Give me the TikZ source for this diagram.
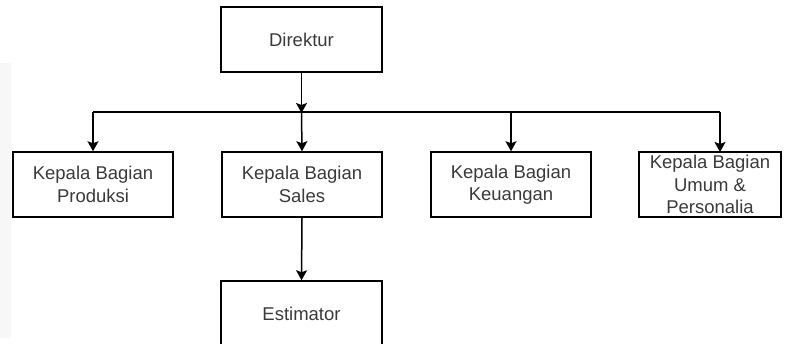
\documentclass[tikz,border=0pt]{standalone}
\usepackage{fontspec}
\setmainfont{Liberation Sans}
\usetikzlibrary{arrows.meta}
\definecolor{txt}{HTML}{3A3A3A}
\begin{document}
\begin{tikzpicture}[x=1pt,y=-1pt,
  box/.style={draw=black, line width=1.5pt, rectangle, inner sep=0pt,
    minimum height=65pt, text=txt, align=center,
    font=\fontsize{18.5}{22.5}\selectfont},
  conn/.style={draw=black, line width=1.5pt},
  arr/.style={conn, -{Stealth[length=10pt,width=11pt,inset=2pt]}}]
\useasboundingbox (0,0) rectangle (791,344);
\clip (0,0) rectangle (791,344);
\fill[black!3] (0,63) rectangle (11,338);
\node[box, minimum width=161pt] (dir) at (301.5,39.5) {Direktur};
\node[box, minimum width=160pt] (prod) at (93,184.5) {Kepala Bagian\\Produksi};
\node[box, minimum width=160pt] (sales) at (302,184.5) {Kepala Bagian\\Sales};
\node[box, minimum width=160pt] (keu) at (511,184.5) {Kepala Bagian\\Keuangan};
\node[box, minimum width=142pt] (umum) at (710,184.5) {Kepala Bagian\\Umum \&\\Personalia};
\node[box, minimum width=161pt] (est) at (301.5,313.5) {Estimator};
\coordinate (j) at (301.5,113);
\coordinate (jl) at (93,112);
\coordinate (jr) at (720,112);
\draw[arr] (dir.south) -- (j);
\draw[conn] (jl) -- (jr);
\draw[arr] (jl) -- (prod.north);
\draw[arr] (j) -- (sales.north);
\draw[arr] (511,112) -- (keu.north);
\draw[arr] (jr) -- (720,152);
\draw[arr] (sales.south) -- (est.north);
\end{tikzpicture}
\end{document}
